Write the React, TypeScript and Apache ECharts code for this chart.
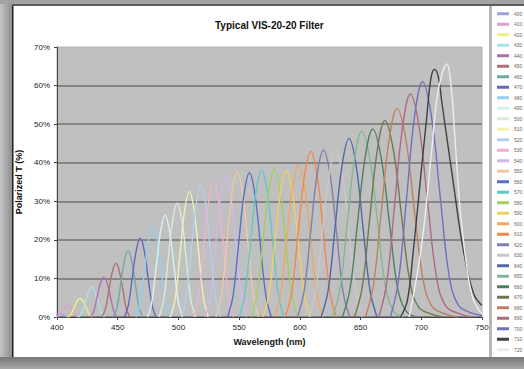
import { useEffect, useRef } from "react";
import * as echarts from "echarts";

type Pt = [number, number];

const seriesNames = [
  "400", "410", "420", "430", "440", "450", "460", "470", "480", "490", "500",
  "510", "520", "530", "540", "550", "560", "570", "580", "590", "600",
  "610", "620", "630", "640", "650", "660", "670", "680", "690", "700", "710", "720",
];

const seriesColors = [
  "#a0a0d8", "#e0a0d0", "#f0f080", "#a8e0e8", "#b070b0", "#b07070", "#70a8a8",
  "#6868b8", "#90d0f0", "#d8f0f0", "#d8ecd8", "#f0f0b0", "#b0d0f0", "#f0b0d0",
  "#d0b8e8", "#f0c8a0", "#5870c8", "#60c8c8", "#a0d060", "#f0d060", "#f0a860",
  "#f08850", "#8080b0", "#c8c8c8", "#5068a8", "#80b890", "#508060", "#707850",
  "#c08060", "#b06888", "#7070c0", "#404040", "#ececec",
];

const xTicks = [400, 450, 500, 550, 600, 650, 700, 750];
const yTicks = [0, 10, 20, 30, 40, 50, 60, 70];

const t400: Pt[] = [[392, 0], [394.3, 0.1], [396.5, 0.4], [398.8, 0.7], [401, 0.8], [403.3, 0.7], [405.5, 0.4], [407.8, 0.1], [410, 0]];
const t410: Pt[] = [[399, 0], [401.4, 0.4], [403.8, 1.5], [406.1, 2.5], [408.5, 2.9], [410.9, 2.5], [413.3, 1.5], [415.6, 0.4], [418, 0]];
const t420: Pt[] = [[409, 0], [411.5, 0.7], [414, 2.4], [416.5, 4.1], [419, 4.8], [421.5, 4.1], [424, 2.4], [426.5, 0.7], [429, 0]];
const t430: Pt[] = [[418, 0], [420.6, 1.2], [423.3, 3.9], [425.9, 6.5], [428.5, 7.7], [431.1, 6.5], [433.8, 3.9], [436.4, 1.2], [439, 0]];
const t440: Pt[] = [[427.5, 0], [430.3, 1.5], [433, 5.2], [435.8, 8.8], [438.5, 10.3], [441.3, 8.8], [444, 5.2], [446.8, 1.5], [449.5, 0]];
const t450: Pt[] = [[437, 0], [439.9, 2.1], [442.8, 7], [445.6, 11.8], [448.5, 13.9], [451.4, 11.8], [454.3, 7], [457.1, 2.1], [460, 0]];
const t460: Pt[] = [[446.5, 0], [449.5, 2.6], [452.5, 8.6], [455.5, 14.6], [458.5, 17.2], [461.5, 14.6], [464.5, 8.6], [467.5, 2.6], [470.5, 0]];
const t470: Pt[] = [[455.5, 0], [458.8, 3.1], [462, 10.2], [465.3, 17.3], [468.5, 20.4], [471.8, 17.3], [475, 10.2], [478.3, 3.1], [481.5, 0]];
const t480: Pt[] = [[465, 0], [468.5, 3.5], [472, 11.8], [475.5, 20.1], [479, 23.6], [482.5, 20.1], [486, 11.8], [489.5, 3.5], [493, 0]];
const t490: Pt[] = [[474.5, 0], [478.1, 4], [481.8, 13.2], [485.4, 22.4], [489, 26.4], [492.6, 22.4], [496.3, 13.2], [499.9, 4], [503.5, 0]];
const t500: Pt[] = [[484, 0], [487.8, 4.4], [491.5, 14.8], [495.3, 25.1], [499, 29.5], [502.8, 25.1], [506.5, 14.8], [510.3, 4.4], [514, 0]];
const t510: Pt[] = [[493.5, 0], [497.4, 4.9], [501.3, 16.3], [505.1, 27.6], [509, 32.5], [512.9, 27.6], [516.8, 16.3], [520.6, 4.9], [524.5, 0]];
const t520: Pt[] = [[502.5, 0], [506.5, 5.1], [510.5, 17.1], [514.5, 29.1], [518.5, 34.2], [522.5, 29.1], [526.5, 17.1], [530.5, 5.1], [534.5, 0]];
const t530: Pt[] = [[512.5, 0], [516.6, 5.3], [520.8, 17.7], [524.9, 30], [529, 35.3], [533.1, 30], [537.3, 17.7], [541.4, 5.3], [545.5, 0]];
const t540: Pt[] = [[522, 0], [526.3, 5.5], [530.5, 18.3], [534.8, 31.1], [539, 36.6], [543.3, 31.1], [547.5, 18.3], [551.8, 5.5], [556, 0]];
const t550: Pt[] = [[531, 0], [535.4, 5.7], [539.8, 18.9], [544.1, 32], [548.5, 37.7], [552.9, 32], [557.3, 18.9], [561.6, 5.7], [566, 0]];
const t560: Pt[] = [[540.5, 0], [545, 5.6], [549.5, 18.7], [554, 31.8], [558.5, 37.4], [563, 31.8], [567.5, 18.7], [572, 5.6], [576.5, 0]];
const t570: Pt[] = [[550, 0], [554.6, 5.7], [559.3, 19.1], [563.9, 32.4], [568.5, 38.1], [573.1, 32.4], [577.8, 19.1], [582.4, 5.7], [587, 0]];
const t580: Pt[] = [[560, 0], [564.8, 5.7], [569.5, 19.2], [574.3, 32.6], [579, 38.3], [583.8, 32.6], [588.5, 19.2], [593.3, 5.7], [598, 0]];
const t590: Pt[] = [[569.5, 0], [574.4, 5.7], [579.3, 19], [584.1, 32.2], [589, 37.9], [593.9, 32.2], [598.8, 19], [603.6, 5.7], [608.5, 0]];
const t600: Pt[] = [[579, 0], [584, 5.9], [589, 19.7], [594, 33.5], [599, 39.4], [604, 33.5], [609, 19.7], [614, 5.9], [619, 0]];
const t610: Pt[] = [[588, 0], [593.3, 6.4], [598.5, 21.5], [603.8, 36.5], [609, 42.9], [614.3, 36.5], [619.5, 21.5], [624.8, 6.4], [630, 0]];
const t620: Pt[] = [[598, 0], [603.4, 6.5], [608.8, 21.7], [614.1, 36.8], [619.5, 43.3], [624.9, 36.8], [630.3, 21.7], [635.6, 6.5], [641, 0]];
const t630: Pt[] = [[607.5, 0], [613, 6.5], [618.5, 21.7], [624, 36.8], [629.5, 43.3], [635, 36.8], [640.5, 21.7], [646, 6.5], [651.5, 0]];
const t640: Pt[] = [[617.5, 0], [623.3, 6.9], [629, 23.2], [634.8, 39.4], [640.5, 46.3], [646.3, 39.4], [652, 23.2], [657.8, 6.9], [663.5, 0]];
const t650: Pt[] = [[627, 0], [633, 7.2], [639, 24.1], [645, 41], [651, 48.2], [657.6, 41], [664.2, 24.1], [670.8, 7.2], [677.4, 1.4], [685, 0]];
const t660: Pt[] = [[635, 0], [641.3, 7.3], [647.5, 24.4], [653.8, 41.4], [660, 48.7], [666.9, 41.4], [673.8, 24.4], [680.6, 7.3], [687.5, 1.5], [696, 0]];
const t670: Pt[] = [[645, 0], [651.3, 7.6], [657.5, 25.5], [663.8, 43.3], [670, 50.9], [677, 43.3], [684, 25.5], [691, 8.5], [698, 2.5], [708, 0.8], [718, 0]];
const t680: Pt[] = [[654, 0], [660.5, 8.1], [667, 27.1], [673.5, 46], [680, 54.1], [687.3, 46], [694.5, 27.1], [701.8, 9.2], [709, 2.7], [719, 0.9], [730, 0]];
const t690: Pt[] = [[665, 0], [671.5, 8.7], [678, 28.9], [684.5, 49.1], [691, 57.8], [698.3, 49.1], [705.5, 28.9], [712.8, 9.8], [720, 2.9], [730, 1], [741, 0]];
const t700: Pt[] = [[674.5, 0], [681.1, 9.2], [687.8, 30.5], [694.4, 51.9], [701, 61], [708.4, 51.9], [715.8, 30.5], [723.1, 10.4], [730.5, 3.1], [740, 1.2], [750, 0.4]];
const t710: Pt[] = [[683, 0], [688.6, 4.4], [693.5, 17.4], [699, 34.7], [704.5, 51.9], [708, 62], [711, 64.2], [714, 62.3], [716.8, 56], [726.4, 34.7], [734.6, 17.4], [743, 6.1], [750, 3]];
const t720: Pt[] = [[690, 0], [700, 18], [708.6, 43.3], [712.7, 56.3], [717, 63], [721, 65.6], [724.5, 60], [728, 45], [732, 28], [737.5, 13], [743, 4.4], [750, 0.8]];

const curves: Pt[][] = [
  t400, t410, t420, t430, t440, t450, t460, t470, t480, t490, t500,
  t510, t520, t530, t540, t550, t560, t570, t580, t590, t600,
  t610, t620, t630, t640, t650, t660, t670, t680, t690, t700, t710, t720,
];

const FONT = "'Liberation Sans', Arial, sans-serif";

export default function App() {
  const ref = useRef<HTMLDivElement>(null);

  useEffect(() => {
    if (!ref.current) return;
    const chart = echarts.init(ref.current, undefined, { renderer: "svg" });

    const series = curves.map((data, i) => ({
      name: seriesNames[i],
      type: "line" as const,
      data,
      smooth: 0.4,
      showSymbol: false,
      symbol: "none",
      clip: true,
      lineStyle: { color: seriesColors[i], width: 1.4 },
      itemStyle: { color: seriesColors[i] },
      z: 3,
    }));

    chart.setOption({
      animation: false,
      backgroundColor: "#ffffff",
      title: {
        text: "Typical VIS-20-20 Filter",
        left: 210,
        top: 15,
        textStyle: { fontFamily: FONT, fontSize: 10, fontWeight: "bold", color: "#111" },
      },
      legend: {
        type: "plain",
        orient: "vertical",
        left: 497,
        top: 10,
        padding: 0,
        icon: "rect",
        itemWidth: 12,
        itemHeight: 3,
        itemGap: 3,
        data: seriesNames,
        textStyle: { fontFamily: FONT, fontSize: 5, lineHeight: 7.5, color: "#666" },
      },
      grid: {
        left: 57,
        right: 42,
        top: 47,
        bottom: 52,
        show: true,
        backgroundColor: "#c0c0c0",
        borderColor: "#b4b4b4",
        borderWidth: 1,
      },
      xAxis: {
        type: "value",
        min: xTicks[0],
        max: xTicks[xTicks.length - 1],
        interval: 50,
        name: "Wavelength (nm)",
        nameLocation: "middle",
        nameGap: 20,
        nameTextStyle: { fontFamily: FONT, fontSize: 9, fontWeight: "bold", color: "#111" },
        axisLine: { show: true, lineStyle: { color: "#444", width: 1 } },
        axisTick: { show: true, length: 3, lineStyle: { color: "#444" } },
        axisLabel: { fontFamily: FONT, fontSize: 8, color: "#222", margin: 6 },
        splitLine: { show: false },
      },
      yAxis: {
        type: "value",
        min: yTicks[0],
        max: yTicks[yTicks.length - 1],
        interval: 10,
        name: "Polarized T (%)",
        nameLocation: "middle",
        nameGap: 32,
        nameRotate: 90,
        nameTextStyle: { fontFamily: FONT, fontSize: 9, fontWeight: "bold", color: "#111" },
        axisLine: { show: true, lineStyle: { color: "#444", width: 1 } },
        axisTick: { show: true, length: 3, lineStyle: { color: "#444" } },
        axisLabel: { fontFamily: FONT, fontSize: 8, color: "#222", margin: 7, formatter: "{value}%" },
        splitLine: {
          show: true,
          lineStyle: {
            color: ["#858585", "#858585", "#858585", "#858585", "#858585", "#858585", "#858585", "rgba(0,0,0,0)"],
            width: 2,
          },
        },
      },
      graphic: [
        {
          type: "rect",
          shape: { x: 0, y: 0, width: 12, height: 369 },
          style: {
            fill: new echarts.graphic.LinearGradient(0, 0, 1, 0, [
              { offset: 0, color: "#c4c4c4" },
              { offset: 1, color: "#8e8e8e" },
            ]),
          },
          silent: true,
        },
        { type: "rect", shape: { x: 12, y: 5, width: 1.5, height: 352 }, style: { fill: "#222" }, silent: true },
        { type: "rect", shape: { x: 0, y: 0, width: 524, height: 4 }, style: { fill: "#a2a2a2" }, silent: true },
        { type: "rect", shape: { x: 12, y: 4, width: 512, height: 2 }, style: { fill: "#5c5c5c" }, silent: true },
        {
          type: "rect",
          shape: { x: 0, y: 357, width: 524, height: 12 },
          style: {
            fill: new echarts.graphic.LinearGradient(0, 0, 0, 1, [
              { offset: 0, color: "#777777" },
              { offset: 1, color: "#a8a8a8" },
            ]),
          },
          silent: true,
        },
        { type: "rect", shape: { x: 489, y: 6, width: 3, height: 351 }, style: { fill: "#b8b8b8" }, silent: true },
      ],
      series,
    });

    return () => chart.dispose();
  }, []);

  return (
    <div
      ref={ref}
      style={{ position: "absolute", left: 0, top: 0, width: 524, height: 369 }}
    />
  );
}
